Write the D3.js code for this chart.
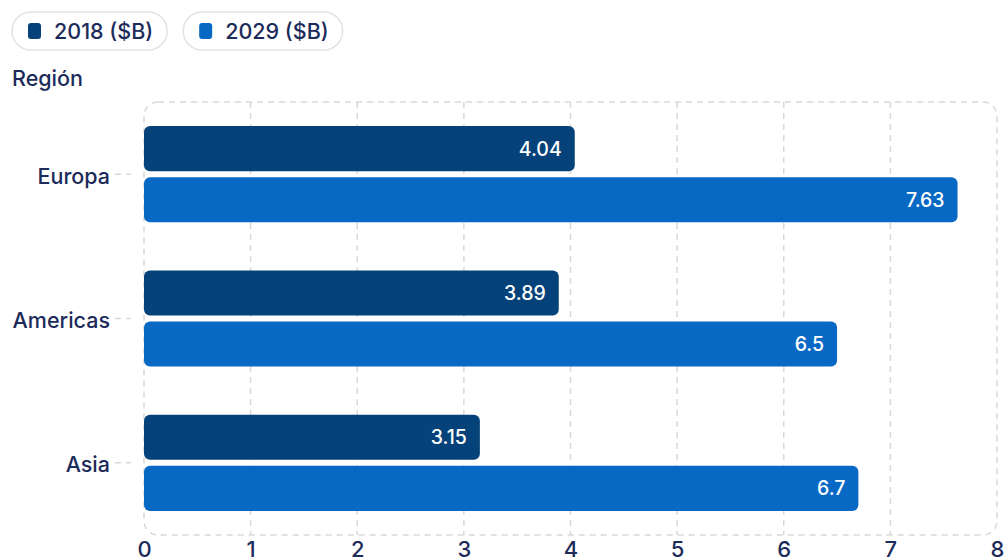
<!DOCTYPE html>
<html>
<head>
<meta charset="utf-8">
<script src="https://cdn.jsdelivr.net/npm/d3@7"></script>
<style>
  html, body { margin: 0; padding: 0; background: #fff; }
  svg { display: block; font-family: Inter, "Noto Sans", sans-serif; }
</style>
</head>
<body>
<svg id="chart" width="1004" height="557"></svg>
<script>
// Regional market size, billions of dollars
const regions = ["Europa", "Americas", "Asia"];
const seriesNames = ["2018 ($B)", "2029 ($B)"];
const values2018 = [4.04, 3.89, 3.15];
const values2029 = [7.63, 6.5, 6.7];
const xTicks = [0, 1, 2, 3, 4, 5, 6, 7, 8];

const colors = ["#05427a", "#0869c4"];
const textColor = "#1c2b5a";
const gridColor = "#d9d9d9";

const svg = d3.select("#chart");
const plot = { left: 144, right: 997, top: 102, bottom: 535 };

const x = d3.scaleLinear().domain([0, 8]).range([plot.left, plot.right]);
const y0 = d3.scaleBand().domain(regions).range([plot.top, plot.bottom]).paddingInner(0.333).paddingOuter(0.167);
const y1 = d3.scaleBand().domain([0, 1]).range([0, y0.bandwidth()]).paddingInner(0.12);

// Legend pills
const legend = svg.append("g");
let lx = 12;
seriesNames.forEach((name, i) => {
  const g = legend.append("g").attr("transform", `translate(${lx},12)`);
  const t = g.append("text").attr("x", 42).attr("y", 19).attr("dy", "0.36em")
    .attr("font-size", 21.5).attr("font-weight", 500).attr("fill", textColor).text(name);
  const w = t.node().getComputedTextLength() + 56;
  g.insert("rect", "text").attr("width", w).attr("height", 38).attr("rx", 19)
    .attr("fill", "#fff").attr("stroke", "#e2e2e2").attr("stroke-width", 1.5);
  g.append("rect").attr("x", 16).attr("y", 11).attr("width", 13).attr("height", 16).attr("rx", 3)
    .attr("fill", colors[i]);
  lx += w + 16;
});

// Axis title
svg.append("text").attr("x", 12).attr("y", 78).attr("dy", "0.35em")
  .attr("font-size", 21.5).attr("font-weight", 500).attr("fill", textColor).text("Región");

// Plot frame and grid
svg.append("rect")
  .attr("x", plot.left).attr("y", plot.top)
  .attr("width", plot.right - plot.left).attr("height", plot.bottom - plot.top)
  .attr("rx", 14).attr("fill", "none")
  .attr("stroke", gridColor).attr("stroke-width", 1.5).attr("stroke-dasharray", "6,5");

svg.append("g").selectAll("line")
  .data(xTicks.filter(d => d > 0 && d < 8))
  .join("line")
  .attr("x1", d => x(d)).attr("x2", d => x(d))
  .attr("y1", plot.top).attr("y2", plot.bottom)
  .attr("stroke", gridColor).attr("stroke-width", 1.5).attr("stroke-dasharray", "6,5");

// X axis labels
const xAxis = svg.append("g").attr("transform", `translate(0,${plot.bottom})`)
  .call(d3.axisBottom(x).tickValues(xTicks).tickSize(0).tickPadding(6));
xAxis.select(".domain").remove();
xAxis.selectAll("text").attr("font-size", 22).attr("font-weight", 500)
  .attr("fill", textColor).attr("font-family", "Inter, sans-serif");

// Y axis labels with dashed tick stubs
const yAxis = svg.append("g").attr("transform", `translate(${plot.left},0)`)
  .call(d3.axisLeft(y0).tickSize(0).tickPadding(34));
yAxis.select(".domain").remove();
yAxis.selectAll("text").attr("font-size", 21.5).attr("font-weight", 500).attr("dy", "0.45em")
  .attr("fill", textColor).attr("font-family", "Inter, sans-serif");
yAxis.selectAll(".tick").append("line")
  .attr("x1", -29).attr("x2", -13).attr("y1", 0).attr("y2", 0)
  .attr("stroke", gridColor).attr("stroke-width", 1.5).attr("stroke-dasharray", "6,5");

// Bars
const rows = regions.map((r, i) => ({ region: r, vals: [values2018[i], values2029[i]] }));
const groups = svg.append("g").selectAll("g")
  .data(rows).join("g")
  .attr("transform", d => `translate(0,${y0(d.region)})`);

const bars = groups.selectAll("g")
  .data(d => d.vals.map((v, k) => ({ v, k })))
  .join("g");

bars.append("rect")
  .attr("x", x(0))
  .attr("y", d => y1(d.k))
  .attr("width", d => x(d.v) - x(0))
  .attr("height", y1.bandwidth())
  .attr("rx", 6)
  .attr("fill", d => colors[d.k]);

bars.append("text")
  .attr("x", d => x(d.v) - 13)
  .attr("y", d => y1(d.k) + y1.bandwidth() / 2)
  .attr("dy", "0.36em")
  .attr("text-anchor", "end")
  .attr("font-size", 19.5)
  .attr("font-weight", 500)
  .attr("fill", "#fff")
  .text(d => d.v);
</script>
</body>
</html>
